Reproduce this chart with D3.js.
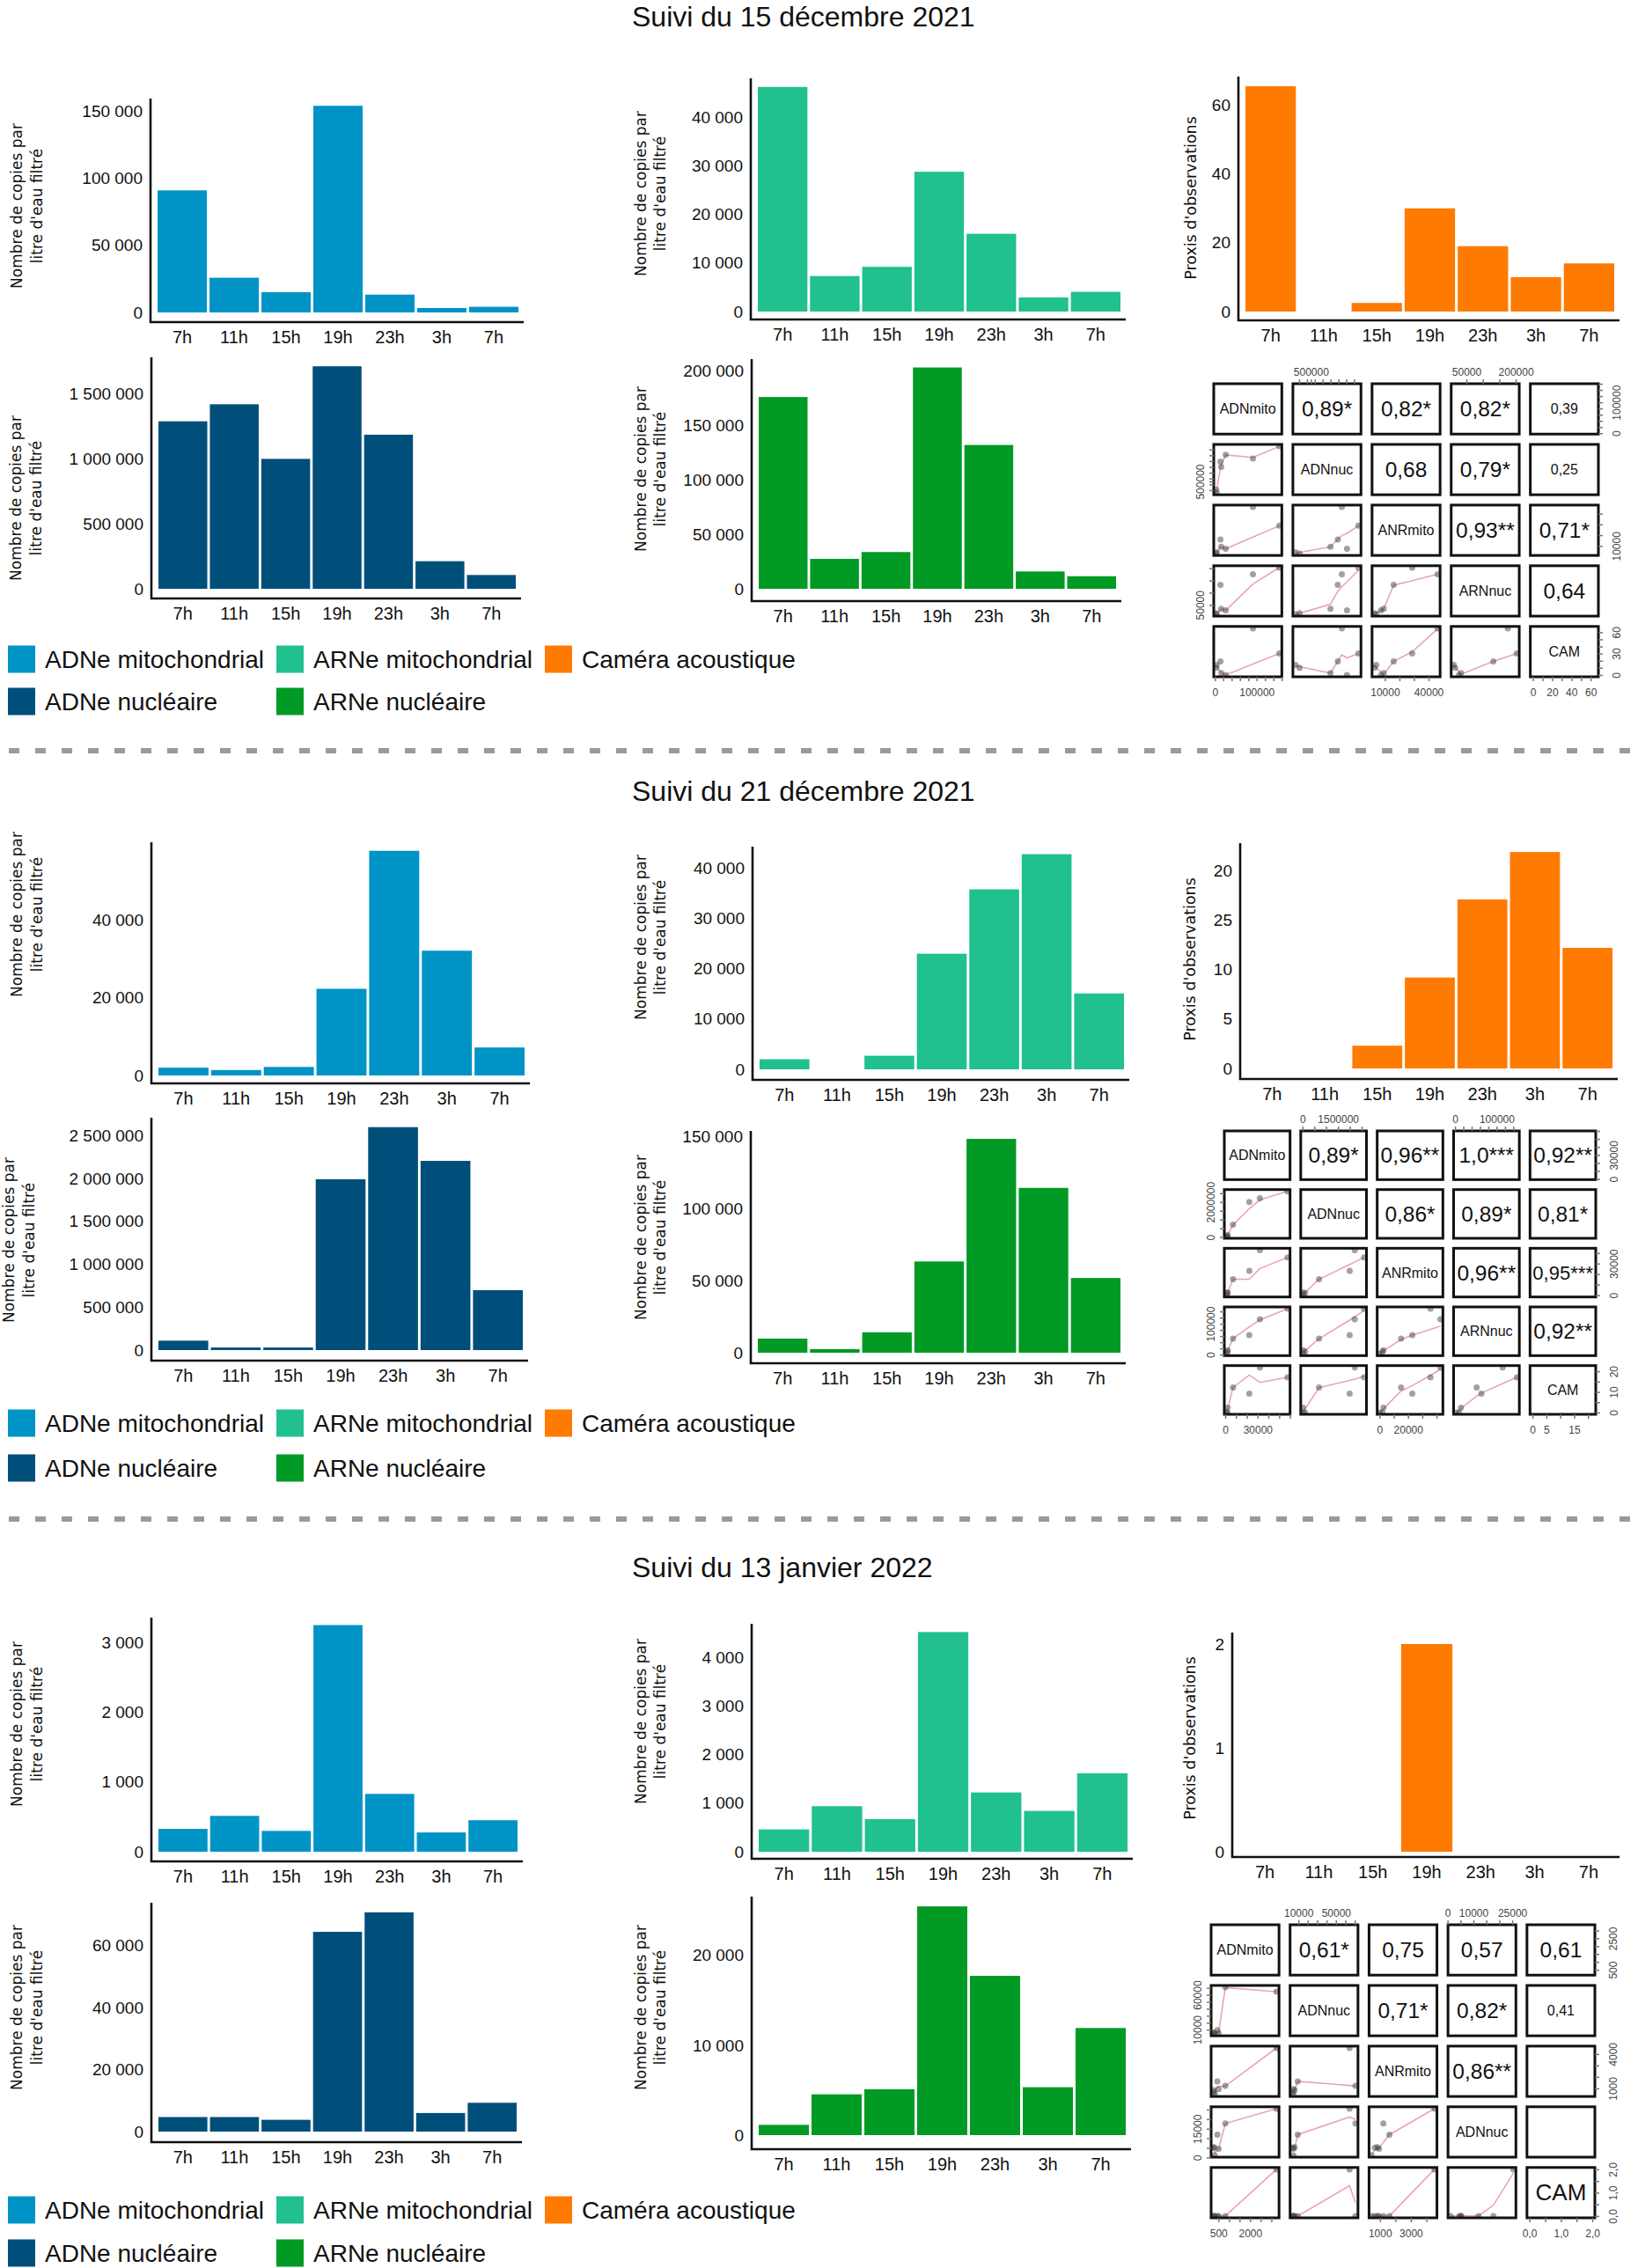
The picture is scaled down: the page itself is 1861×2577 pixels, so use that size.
<!DOCTYPE html>
<html>
<head>
<meta charset="utf-8">
<script src="https://cdn.jsdelivr.net/npm/d3@7"></script>
<style>
    body { margin: 0; background: #fff; }
</style>
</head>
<body>
<div id="chart"></div>
<script>
// ---- data ----
const hours = ["7h", "11h", "15h", "19h", "23h", "3h", "7h"];
const sectionTitles = ["Suivi du 15 décembre 2021", "Suivi du 21 décembre 2021", "Suivi du 13 janvier 2022"];
const seriesNames = ["ADNe mitochondrial", "ARNe mitochondrial", "Caméra acoustique", "ADNe nucléaire", "ARNe nucléaire"];
const yTitleCopies = ["Nombre de copies par", "litre d'eau filtré"];
const yTitleCam = ["Proxis d'observations"];

// 15 décembre 2021
const adnMito15 = [91100, 25900, 15100, 154200, 13300, 3300, 4200];
const arnMito15 = [46200, 7300, 9200, 28750, 16000, 2900, 4050];
const cam15 = [65.5, 0, 2.5, 30, 19, 10, 14];
const adnNuc15 = [1288000, 1419000, 999000, 1711000, 1185000, 212000, 106000];
const arnNuc15 = [175900, 27400, 33700, 203000, 131900, 15900, 11500];
const ticksAdnMito15 = [0, 50000, 100000, 150000];
const ticksArnMito15 = [0, 10000, 20000, 30000, 40000];
const ticksCam15 = [0, 20, 40, 60];
const ticksAdnNuc15 = [0, 500000, 1000000, 1500000];
const ticksArnNuc15 = [0, 50000, 100000, 150000, 200000];

// 21 décembre 2021
const adnMito21 = [2000, 1400, 2200, 22300, 57800, 32100, 7200];
const arnMito21 = [2000, 0, 2700, 23000, 35800, 42800, 15100];
const cam21 = [0, 0, 2.3, 9.2, 17.1, 21.9, 12.2];
const adnNuc21 = [110000, 30000, 30000, 1993000, 2600000, 2207000, 699000];
const arnNuc21 = [9800, 2500, 14200, 63400, 148600, 114500, 51900];
const ticksAdnMito21 = [0, 20000, 40000];
const ticksArnMito21 = [0, 10000, 20000, 30000, 40000];
const ticksCam21 = [0, 5, 10, 15, 20];
const tickTextCam21 = ["0", "5", "10", "25", "20"];
const ticksAdnNuc21 = [0, 500000, 1000000, 1500000, 2000000, 2500000];
const ticksArnNuc21 = [0, 50000, 100000, 150000];

// 13 janvier 2022
const adnMito13 = [327, 513, 298, 3245, 828, 276, 451];
const arnMito13 = [460, 937, 670, 4523, 1220, 840, 1615];
const cam13 = [0, 0, 0, 2, 0, 0, 0];
const adnNuc13 = [4700, 4700, 3800, 64500, 70800, 6000, 9300];
const arnNuc13 = [1140, 4540, 5110, 25460, 17730, 5330, 11920];
const ticksAdnMito13 = [0, 1000, 2000, 3000];
const ticksArnMito13 = [0, 1000, 2000, 3000, 4000];
const ticksCam13 = [0, 1, 2];
const ticksAdnNuc13 = [0, 20000, 40000, 60000];
const ticksArnNuc13 = [0, 10000, 20000];

// correlation matrices
const pairNames15 = ["ADNmito", "ADNnuc", "ANRmito", "ARNnuc", "CAM"];
const pairNames21 = ["ADNmito", "ADNnuc", "ANRmito", "ARNnuc", "CAM"];
const pairNames13 = ["ADNmito", "ADNnuc", "ANRmito", "ADNnuc", "CAM"];
const pairCor15 = [["0,89*", "0,82*", "0,82*", "0,39"], ["0,68", "0,79*", "0,25"], ["0,93**", "0,71*"], ["0,64"]];
const pairCor21 = [["0,89*", "0,96**", "1,0***", "0,92**"], ["0,86*", "0,89*", "0,81*"], ["0,96**", "0,95***"], ["0,92**"]];
const pairCor13 = [["0,61*", "0,75", "0,57", "0,61"], ["0,71*", "0,82*", "0,41"], ["0,86**", ""], [""]];
const pairAxis15 = {
    top: { 1: ["500000"], 3: ["50000", "200000"] },
    bottom: { 0: ["0", "100000"], 2: ["10000", "40000"], 4: ["0", "20", "40", "60"] },
    right: { 0: ["0", "100000"], 2: ["10000"], 4: ["0", "30", "60"] },
    left: { 1: ["500000"], 3: ["50000"] }
};
const pairAxis21 = {
    top: { 1: ["0", "1500000"], 3: ["0", "100000"] },
    bottom: { 0: ["0", "30000"], 2: ["0", "20000"], 4: ["0", "5", "15"] },
    right: { 0: ["0", "30000"], 2: ["0", "30000"], 4: ["0", "10", "20"] },
    left: { 1: ["0", "2000000"], 3: ["0", "100000"] }
};
const pairAxis13 = {
    top: { 1: ["10000", "50000"], 3: ["0", "10000", "25000"] },
    bottom: { 0: ["500", "2000"], 2: ["1000", "3000"], 4: ["0,0", "1,0", "2,0"] },
    right: { 0: ["500", "2500"], 2: ["1000", "4000"], 4: ["0,0", "1,0", "2,0"] },
    left: { 1: ["10000", "60000"], 3: ["0", "15000"] }
};

// ---- styles / layout ----
const FONT = "'Liberation Sans', Arial, sans-serif";
const colors = ["#0094c6", "#20c08f", "#ff7a00", "#004f7b", "#009a25"];
const legendX = [9, 314, 619];
const legendRows = [[0, 1, 2], [3, 4]];

const fr = d3.formatLocale({ decimal: ",", thousands: "\u00a0", grouping: [3], currency: ["", ""] });
const fmtThousands = fr.format(",");

const sections = [
    {
        title: sectionTitles[0], titleY: 30, legendY: [749, 797],
        panels: [
            { values: adnMito15, ticks: ticksAdnMito15, s: 0, x0: 171, top: 112, axisY: 366, base: 355, x1: 595, ymax: 159600, lx: [19, 42], ly: 234 },
            { values: arnMito15, ticks: ticksArnMito15, s: 1, x0: 853, top: 89, axisY: 363, base: 354, x1: 1279, ymax: 47970, lx: [728, 750], ly: 220 },
            { values: cam15, ticks: ticksCam15, s: 2, x0: 1407, top: 87, axisY: 364, base: 354, x1: 1840, ymax: 68.3, lx: [1353], ly: 225 },
            { values: adnNuc15, ticks: ticksAdnNuc15, s: 3, x0: 172, top: 406, axisY: 680, base: 669, x1: 592, ymax: 1780000, lx: [18, 41], ly: 566 },
            { values: arnNuc15, ticks: ticksArnNuc15, s: 4, x0: 854, top: 408, axisY: 683, base: 669, x1: 1274, ymax: 210700, lx: [728, 750], ly: 533 }
        ],
        pairs: { vars: [adnMito15, adnNuc15, arnMito15, arnNuc15, cam15], names: pairNames15, cors: pairCor15, axes: pairAxis15, xr: [1379, 1816], yr: [436, 769], camSize: 16 }
    },
    {
        title: sectionTitles[1], titleY: 910, legendY: [1617, 1668],
        panels: [
            { values: adnMito21, ticks: ticksAdnMito21, s: 0, x0: 172, top: 957, axisY: 1231, base: 1222, x1: 602, ymax: 60000, lx: [19, 42], ly: 1039 },
            { values: arnMito21, ticks: ticksArnMito21, s: 1, x0: 855, top: 962, axisY: 1227, base: 1215, x1: 1283, ymax: 44300, lx: [728, 750], ly: 1065 },
            { values: cam21, ticks: ticksCam21, tickText: tickTextCam21, s: 2, x0: 1409, top: 958, axisY: 1226, base: 1214, x1: 1838, ymax: 22.8, lx: [1352], ly: 1090 },
            { values: adnNuc21, ticks: ticksAdnNuc21, s: 3, x0: 172, top: 1270, axisY: 1546, base: 1534, x1: 600, ymax: 2710000, lx: [10, 33], ly: 1409 },
            { values: arnNuc21, ticks: ticksArnNuc21, s: 4, x0: 853, top: 1285, axisY: 1549, base: 1537, x1: 1279, ymax: 154100, lx: [728, 750], ly: 1406 }
        ],
        pairs: { vars: [adnMito21, adnNuc21, arnMito21, arnNuc21, cam21], names: pairNames21, cors: pairCor21, axes: pairAxis21, xr: [1391, 1813], yr: [1285, 1607], camSize: 16 }
    },
    {
        title: sectionTitles[2], titleY: 1792, legendY: [2511, 2560],
        panels: [
            { values: adnMito13, ticks: ticksAdnMito13, s: 0, x0: 172, top: 1838, axisY: 2115, base: 2104, x1: 594, ymax: 3352, lx: [19, 42], ly: 1959 },
            { values: arnMito13, ticks: ticksArnMito13, s: 1, x0: 854, top: 1845, axisY: 2112, base: 2104, x1: 1287, ymax: 4693, lx: [728, 750], ly: 1956 },
            { values: cam13, ticks: ticksCam13, s: 2, x0: 1400, top: 1855, axisY: 2110, base: 2104, x1: 1840, ymax: 2.11, lx: [1352], ly: 1975 },
            { values: adnNuc13, ticks: ticksAdnNuc13, s: 3, x0: 172, top: 2162, axisY: 2434, base: 2422, x1: 593, ymax: 73900, lx: [19, 42], ly: 2281 },
            { values: arnNuc13, ticks: ticksArnNuc13, s: 4, x0: 854, top: 2155, axisY: 2442, base: 2426, x1: 1285, ymax: 26550, lx: [728, 750], ly: 2281 }
        ],
        pairs: { vars: [adnMito13, adnNuc13, arnMito13, arnNuc13, cam13], names: pairNames13, cors: pairCor13, axes: pairAxis13, xr: [1376, 1812], yr: [2187, 2520], camSize: 26 }
    }
];
const separatorsY = [853, 1726];

// ---- svg ----
const svg = d3.select("#chart").append("svg")
    .attr("width", 1861)
    .attr("height", 2577)
    .attr("viewBox", [0, 0, 1861, 2577])
    .style("background", "#fff");

function drawBars(p) {
    const g = svg.append("g");
    const x = d3.scaleBand(d3.range(p.values.length), [p.x0 + 8, p.x1 - 6]).paddingInner(0.05);
    const y = d3.scaleLinear([0, p.ymax], [p.base, p.top]);

    g.append("g").selectAll("rect")
        .data(p.values)
        .join("rect")
        .attr("x", (d, i) => x(i))
        .attr("width", x.bandwidth())
        .attr("y", d => y(d))
        .attr("height", d => y(0) - y(d))
        .attr("fill", colors[p.s]);

    // y tick labels, no tick marks
    g.append("g")
        .attr("transform", `translate(${p.x0},0)`)
        .call(d3.axisLeft(y).tickValues(p.ticks).tickSize(0).tickPadding(9)
            .tickFormat((d, i) => p.tickText ? p.tickText[i] : fmtThousands(d)))
        .call(a => a.select(".domain").remove())
        .attr("font-size", 19)
        .attr("font-family", FONT)
        .attr("color", "#111");

    // hours
    g.append("g")
        .attr("transform", `translate(0,${p.axisY})`)
        .call(d3.axisBottom(x).tickSize(0).tickPadding(10).tickFormat(i => hours[i]))
        .call(a => a.select(".domain").remove())
        .attr("font-size", 20)
        .attr("font-family", FONT)
        .attr("color", "#111");

    // L shaped axis
    g.append("path")
        .attr("d", `M${p.x0},${p.top}V${p.axisY}H${p.x1}`)
        .attr("fill", "none")
        .attr("stroke", "#111")
        .attr("stroke-width", 2.6);

    const lines = p.s === 2 ? yTitleCam : yTitleCopies;
    lines.forEach((line, k) => {
        g.append("text")
            .attr("transform", `translate(${p.lx[k]},${p.ly}) rotate(-90)`)
            .attr("text-anchor", "middle")
            .attr("dy", "0.35em")
            .attr("font-family", "'DejaVu Sans', sans-serif")
            .attr("font-size", p.s === 2 ? 17.5 : 17)
            .attr("fill", "#111")
            .text(line);
    });
}

// R style lowess (tricube, local linear, bisquare robustness)
function lowess(xs, ys, f = 2 / 3, iter = 3) {
    const n = xs.length;
    const order = d3.range(n).sort((a, b) => xs[a] - xs[b]);
    const x = order.map(i => xs[i]);
    const y = order.map(i => ys[i]);
    const r = Math.max(2, Math.min(n, Math.round(f * n)));
    let rw = new Array(n).fill(1);
    const fit = new Array(n).fill(0);
    const range = x[n - 1] - x[0];
    for (let it = 0; it <= iter; it++) {
        for (let i = 0; i < n; i++) {
            const dist = x.map(v => Math.abs(v - x[i]));
            const h = dist.slice().sort((a, b) => a - b)[r - 1];
            const w = dist.map((di, k) => {
                let t;
                if (h === 0) t = di === 0 ? 1 : 0;
                else if (di <= 0.001 * h) t = 1;
                else if (di < 0.999 * h) t = Math.pow(1 - Math.pow(di / h, 3), 3);
                else t = 0;
                return t * rw[k];
            });
            const sw = d3.sum(w);
            if (sw <= 0) { fit[i] = y[i]; continue; }
            const mx = d3.sum(x, (v, k) => w[k] * v) / sw;
            const my = d3.sum(y, (v, k) => w[k] * v) / sw;
            let sxx = 0, sxy = 0;
            for (let k = 0; k < n; k++) {
                sxx += w[k] * (x[k] - mx) ** 2;
                sxy += w[k] * (x[k] - mx) * (y[k] - my);
            }
            const b = Math.sqrt(sxx / sw) > 0.001 * range ? sxy / sxx : 0;
            fit[i] = my + b * (x[i] - mx);
        }
        if (it === iter) break;
        const res = y.map((v, k) => v - fit[k]);
        const s = d3.median(res.map(Math.abs));
        if (!(s > 1e-7 * d3.mean(y.map(Math.abs)))) break;
        rw = res.map(e => {
            const u = e / (6 * s);
            return Math.abs(u) < 1 ? (1 - u * u) ** 2 : 0;
        });
    }
    return x.map((v, k) => [v, fit[k]]);
}

let clipId = 0;
function drawPairs(m) {
    const n = m.vars.length;
    const g = svg.append("g");
    const bx = d3.scaleBand(d3.range(n), m.xr).paddingInner(0.14);
    const by = d3.scaleBand(d3.range(n), m.yr).paddingInner(0.17);
    const w = bx.bandwidth(), h = by.bandwidth();
    const doms = m.vars.map(v => {
        const [a, b] = d3.extent(v);
        const pad = (b - a) * 0.04 || 0.5;
        return [a - pad, b + pad];
    });
    const sxs = doms.map((d, j) => d3.scaleLinear(d, [bx(j), bx(j) + w]));
    const sys = doms.map((d, i) => d3.scaleLinear(d, [by(i) + h, by(i)]));

    for (let i = 0; i < n; i++) {
        for (let j = 0; j < n; j++) {
            const cx = bx(j) + w / 2, cy = by(i) + h / 2;
            if (i === j) {
                g.append("text")
                    .attr("x", cx).attr("y", cy).attr("dy", "0.35em")
                    .attr("text-anchor", "middle")
                    .attr("font-family", FONT)
                    .attr("font-size", m.names[i] === "CAM" ? m.camSize : 16)
                    .attr("fill", "#111")
                    .text(m.names[i]);
            } else if (i < j) {
                const label = m.cors[i][j - i - 1];
                const r = parseFloat(label.replace(",", ".")) || 0;
                const t = g.append("text")
                    .attr("x", cx).attr("y", cy).attr("dy", "0.35em")
                    .attr("text-anchor", "middle")
                    .attr("font-family", FONT)
                    .attr("font-size", r < 0.45 ? 16 : 24.5)
                    .attr("fill", "#111")
                    .text(label);
                const len = t.node().getComputedTextLength();
                if (len > w - 6) t.attr("font-size", (r < 0.45 ? 16 : 24.5) * (w - 6) / len);
            } else {
                const id = `pclip${clipId++}`;
                g.append("clipPath").attr("id", id)
                    .append("rect").attr("x", bx(j)).attr("y", by(i)).attr("width", w).attr("height", h);
                const cell = g.append("g").attr("clip-path", `url(#${id})`);
                const sx = sxs[j], sy = sys[i];
                const pts = m.vars[j].map((v, k) => [v, m.vars[i][k]]);
                cell.append("path")
                    .datum(lowess(m.vars[j], m.vars[i]))
                    .attr("fill", "none")
                    .attr("stroke", "#e4909e")
                    .attr("stroke-opacity", 0.8)
                    .attr("stroke-width", 1.6)
                    .attr("d", d3.line().x(d => sx(d[0])).y(d => sy(d[1])));
                cell.selectAll("circle")
                    .data(pts)
                    .join("circle")
                    .attr("cx", d => sx(d[0]))
                    .attr("cy", d => sy(d[1]))
                    .attr("r", 3.5)
                    .attr("fill", "#444")
                    .attr("fill-opacity", 0.5);
            }
            g.append("rect")
                .attr("x", bx(j)).attr("y", by(i))
                .attr("width", w).attr("height", h)
                .attr("fill", "none")
                .attr("stroke", "#111")
                .attr("stroke-width", 3);
        }
    }

    // outer axes, R pairs style
    const sides = {
        top: k => ({ gen: d3.axisTop(sxs[k]).tickPadding(4), tr: `translate(0,${by(0)})` }),
        bottom: k => ({ gen: d3.axisBottom(sxs[k]).tickPadding(8), tr: `translate(0,${by(n - 1) + h})` }),
        left: k => ({ gen: d3.axisLeft(sys[k]), tr: `translate(${bx(0)},0)` }),
        right: k => ({ gen: d3.axisRight(sys[k]), tr: `translate(${bx(n - 1) + w},0)` })
    };
    for (const side in m.axes) {
        for (const key in m.axes[side]) {
            const k = +key;
            const labels = m.axes[side][key];
            const vals = labels.map(s => +s.replace(",", "."));
            const dom = doms[k];
            const tv = d3.ticks(dom[0], dom[1], 6).filter(t => t >= dom[0] && t <= dom[1]);
            vals.forEach(v => { if (!tv.some(t => Math.abs(t - v) < 1e-9)) tv.push(v); });
            const { gen, tr } = sides[side](k);
            const ag = g.append("g")
                .attr("transform", tr)
                .call(gen.tickValues(tv).tickSize(5).tickFormat(d => {
                    const idx = vals.findIndex(v => Math.abs(v - d) < 1e-9);
                    return idx < 0 ? "" : labels[idx];
                }))
                .call(a => a.select(".domain").remove())
                .attr("font-size", 12)
                .attr("font-family", FONT)
                .attr("color", "#444");
            ag.selectAll("line").attr("stroke", "#777").attr("stroke-width", 1.5);
            if (side === "left" || side === "right") {
                ag.selectAll("text")
                    .attr("x", 0)
                    .attr("text-anchor", "middle")
                    .attr("transform", side === "right" ? "translate(16,0) rotate(-90)" : "translate(-11,0) rotate(-90)")
                    .attr("dy", side === "right" ? "0.75em" : "0");
            }
        }
    }
}

function drawLegend(rowsY) {
    legendRows.forEach((row, r) => {
        row.forEach((k, c) => {
            svg.append("rect")
                .attr("x", legendX[c])
                .attr("y", rowsY[r] - 15.5)
                .attr("width", 31)
                .attr("height", 31)
                .attr("fill", colors[k]);
            svg.append("text")
                .attr("x", legendX[c] + 42)
                .attr("y", rowsY[r])
                .attr("dy", "0.35em")
                .attr("font-family", FONT)
                .attr("font-size", 28)
                .attr("fill", "#111")
                .text(seriesNames[k]);
        });
    });
}

sections.forEach(sec => {
    svg.append("text")
        .attr("x", 718)
        .attr("y", sec.titleY)
        .attr("font-family", FONT)
        .attr("font-size", 32)
        .attr("fill", "#111")
        .text(sec.title);
    sec.panels.forEach(drawBars);
    drawPairs(sec.pairs);
    drawLegend(sec.legendY);
});

separatorsY.forEach(y => {
    svg.append("line")
        .attr("x1", 10).attr("x2", 1861)
        .attr("y1", y).attr("y2", y)
        .attr("stroke", "#9a9a9a")
        .attr("stroke-width", 6)
        .attr("stroke-dasharray", "12 18");
});
</script>
</body>
</html>
